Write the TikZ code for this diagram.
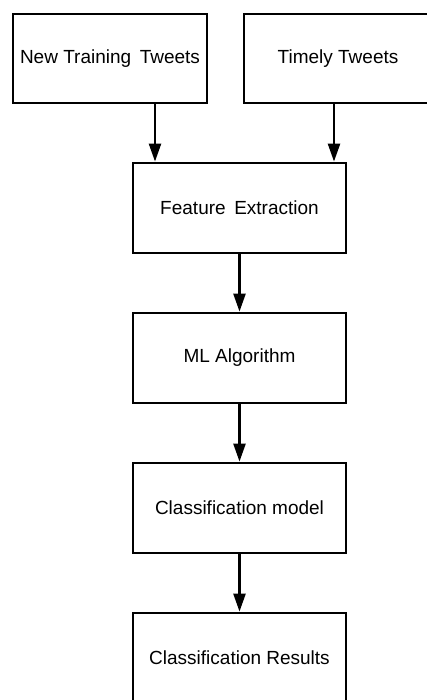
\documentclass[tikz,border=0pt]{standalone}
\usepackage{fontspec}
\setmainfont{Liberation Sans}
\usetikzlibrary{arrows.meta}
\begin{document}
\begin{tikzpicture}[x=1pt,y=-1pt,
  stagebox/.style={draw=black, line width=2.8pt, fill=white, inner sep=0pt,
    minimum width=213pt, minimum height=90pt,
    font=\fontsize{19}{22}\selectfont, text=black},
  flow/.style={draw=black, line width=2.4pt,
    -{Triangle[length=18pt,width=12pt]}}]
  \useasboundingbox (0,0) rectangle (427,700);
  % input boxes
  \node[stagebox, minimum width=194pt, minimum height=89pt] (train) at (110,58.5) {New Training\hspace{0.45em}Tweets};
  \node[stagebox, minimum width=188pt, minimum height=89pt] (timely) at (338,58.5) {Timely Tweets};
  % processing chain
  \node[stagebox] (feat) at (239.5,208) {Feature\hspace{0.45em}Extraction};
  \node[stagebox] (ml) at (239.5,358) {ML Algorithm};
  \node[stagebox] (model) at (239.5,508) {Classification model};
  \node[stagebox] (res) at (239.5,658) {Classification Results};
  % connectors
  \draw[flow] ([xshift=45pt]train.south) -- ([xshift=45pt]train.south |- feat.north);
  \draw[flow] ([xshift=-4pt]timely.south) -- ([xshift=-4pt]timely.south |- feat.north);
  \draw[flow] (feat) -- (ml);
  \draw[flow] (ml) -- (model);
  \draw[flow] (model) -- (res);
\end{tikzpicture}
\end{document}
